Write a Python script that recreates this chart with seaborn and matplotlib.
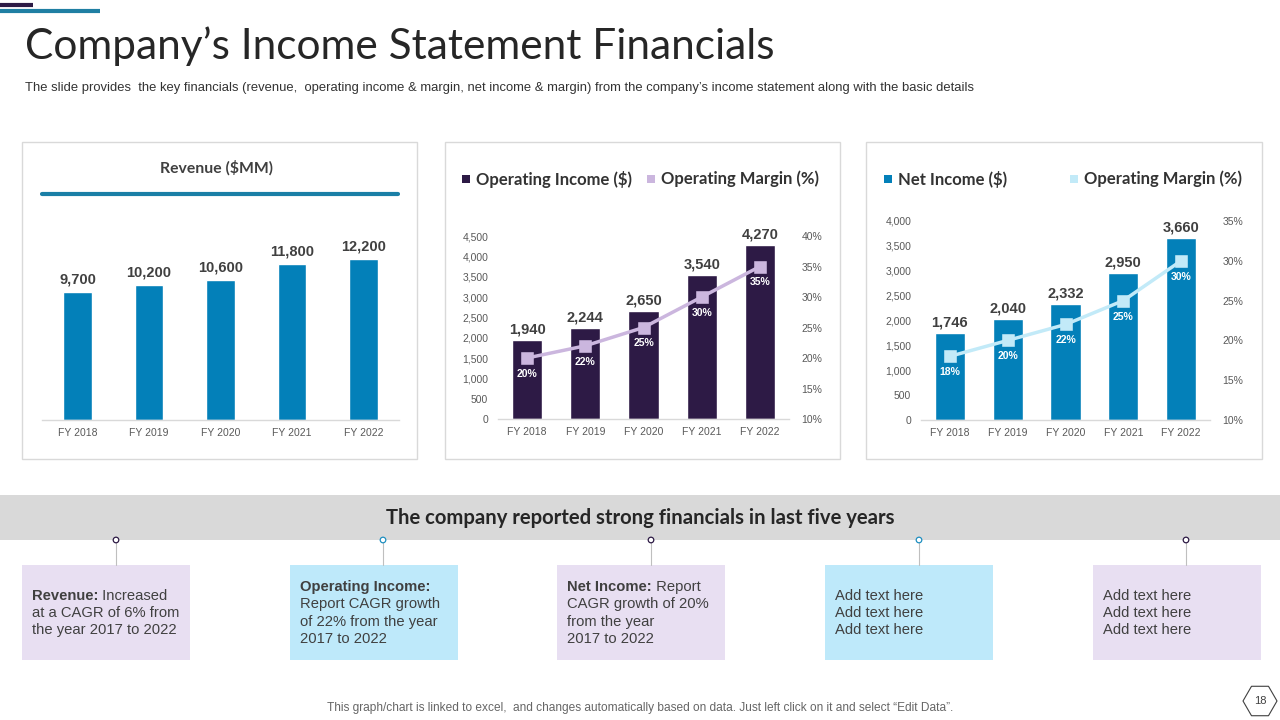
import numpy as np
import pandas as pd
import matplotlib
matplotlib.use("Agg")
import matplotlib.pyplot as plt
import seaborn as sns
from matplotlib.patches import Rectangle, RegularPolygon, Circle
from matplotlib.ticker import FuncFormatter, MultipleLocator

# ---------------- data ----------------
years = ["FY 2018", "FY 2019", "FY 2020", "FY 2021", "FY 2022"]
revenue = [9700, 10200, 10600, 11800, 12200]
op_income = [1940, 2244, 2650, 3540, 4270]
op_margin = [20, 22, 25, 30, 35]
net_income = [1746, 2040, 2332, 2950, 3660]
net_margin = [18, 20, 22, 25, 30]

title = "Company\u2019s Income Statement Financials"
subtitle = ("The slide provides  the key financials (revenue,  operating income & margin, net income & margin) "
            "from the company\u2019s income statement along with the basic details")
band_text = "The company reported strong financials in last five years"
footer = ("This graph/chart is linked to excel,  and changes automatically based on data. "
          "Just left click on it and select \u201cEdit Data\u201d.")

# ---------------- style ----------------
sns.set_theme(style="white")
plt.rcParams["font.family"] = ["Liberation Sans", "DejaVu Sans"]
HEAD = ["Lato", "DejaVu Sans"]

DARK = "#2d1a45"
BLUE = "#0380b9"
LPURP = "#cbb6de"
LCYAN = "#c2eaf8"
TXT = "#404040"
TICK = "#595959"

W, H = 1280, 720
fig = plt.figure(figsize=(12.8, 7.2), dpi=100)
fig.patch.set_facecolor("white")

bg = fig.add_axes([0, 0, 1, 1], zorder=0)
bg.set_xlim(0, W)
bg.set_ylim(H, 0)
bg.axis("off")


def pax(x0, y0, x1, y1, z=2):
    a = fig.add_axes([x0 / W, 1 - y1 / H, (x1 - x0) / W, (y1 - y0) / H], zorder=z)
    a.patch.set_alpha(0)
    return a


# ---------------- header ----------------
bg.plot([0, 33], [5, 5], color=DARK, lw=3, solid_capstyle="butt")
bg.plot([0, 100], [11, 11], color="#1f7fa3", lw=3, solid_capstyle="butt")
bg.text(25, 46, title, fontsize=30.5, family=HEAD, fontweight="normal", color="#262626",
        va="center", ha="left")
bg.text(25, 88, subtitle, fontsize=9.4, color="#333333", va="center", ha="left")

# ---------------- panel frames ----------------
for (x0, x1) in [(22, 417), (445, 840), (866, 1262)]:
    bg.add_patch(Rectangle((x0, 142), x1 - x0, 317, fill=False, ec="#d9d9d9", lw=1))


def style_axes(ax):
    for s in ["left", "right", "top"]:
        ax.spines[s].set_visible(False)
    ax.spines["bottom"].set_color("#d9d9d9")
    ax.spines["bottom"].set_linewidth(1)
    ax.set_xlabel("")
    ax.set_ylabel("")
    ax.tick_params(axis="x", length=0, labelsize=7.5, labelcolor=TICK, pad=6)
    ax.tick_params(axis="y", length=0, labelsize=7.5, labelcolor=TICK, pad=7)
    ax.grid(False)


# ---------------- panel 1: revenue ----------------
bg.text(217, 168, "Revenue ($MM)", fontsize=11.3, family=HEAD, fontweight="bold",
        color=TXT, ha="center", va="center")
bg.plot([42, 398], [194, 194], color="#1a7fa6", lw=3, solid_capstyle="round")

df1 = pd.DataFrame({"year": years, "value": revenue})
ax1 = pax(42, 235, 399, 420)
sns.barplot(data=df1, x="year", y="value", color=BLUE, saturation=1, width=0.4, ax=ax1)
ax1.set_xlim(-0.5, 4.5)
ax1.set_ylim(0, 14000)
style_axes(ax1)
ax1.set_yticks([])
for i, v in enumerate(revenue):
    ax1.annotate(f"{v:,}", (i, v), xytext=(0, 4), textcoords="offset points",
                 ha="center", va="bottom", fontsize=10.5, fontweight="bold", color=TXT)


# ---------------- combo panels ----------------
def combo(box, vals, margins, bar_c, line_c, ymax, ystep, rmin, rmax):
    x0, y0, x1, y1 = box
    df = pd.DataFrame({"year": years, "value": vals, "margin": margins})
    ax = pax(x0, y0, x1, y1, z=2)
    sns.barplot(data=df, x="year", y="value", color=bar_c, saturation=1, width=0.52, ax=ax)
    ax.set_xlim(-0.5, 4.5)
    ax.set_ylim(0, ymax)
    ax.yaxis.set_major_locator(MultipleLocator(ystep))
    ax.yaxis.set_major_formatter(FuncFormatter(lambda v, p: f"{v:,.0f}"))
    style_axes(ax)
    for i, v in enumerate(vals):
        ax.annotate(f"{v:,}", (i, v), xytext=(0, 2.5), textcoords="offset points",
                    ha="center", va="bottom", fontsize=10.5, fontweight="bold", color=TXT)
    ax2 = ax.twinx()
    ax2.set_zorder(3)
    ax2.patch.set_alpha(0)
    sns.pointplot(data=df, x="year", y="margin", color=line_c, markers="s",
                  errorbar=None, markersize=7, linewidth=2.5, ax=ax2)
    ax2.set_xlim(-0.5, 4.5)
    ax2.set_ylim(rmin, rmax)
    ax2.yaxis.set_major_locator(MultipleLocator(5))
    ax2.yaxis.set_major_formatter(FuncFormatter(lambda v, p: f"{v:.0f}%"))
    style_axes(ax2)
    ax2.spines["bottom"].set_visible(False)
    ax2.tick_params(axis="y", pad=9)
    for i, m in enumerate(margins):
        ax2.annotate(f"{m}%", (i, m), xytext=(0, -11.5), textcoords="offset points",
                     ha="center", va="center", fontsize=7.5, fontweight="bold", color="white")
    return ax, ax2


combo((498, 236, 789, 419), op_income, op_margin, DARK, LPURP, 4500, 500, 10, 40)
combo((921, 221, 1210, 420), net_income, net_margin, BLUE, LCYAN, 4000, 500, 10, 35)

# legends
def legend_item(x, y, c, label):
    bg.add_patch(Rectangle((x - 4, y - 4), 8, 8, color=c, lw=0))
    bg.text(x + 10, y, label, fontsize=12, family=HEAD, fontweight="bold",
            color="#333333", ha="left", va="center")

legend_item(466, 179, DARK, "Operating Income ($)")
legend_item(651, 179, LPURP, "Operating Margin (%)")
legend_item(888, 179, BLUE, "Net Income ($)")
legend_item(1074, 179, LCYAN, "Operating Margin (%)")

# ---------------- band ----------------
bg.add_patch(Rectangle((0, 495), W, 45, color="#d9d9d9", lw=0))
bg.text(640, 518, band_text, fontsize=14.6, family=HEAD, fontweight="bold",
        color="#262626", ha="center", va="center")

# ---------------- boxes ----------------
box_x = [22, 290, 557, 825, 1093]
box_fill = ["#e8dff2", "#bee9fa", "#e8dff2", "#bee9fa", "#e8dff2"]
dot_c = [DARK, "#1f8fc0", DARK, "#1f8fc0", DARK]
conn_x = [116, 383, 651, 919, 1186]
box_lines = [
    [("Revenue:", " Increased"), ("", "at a CAGR of 6% from"), ("", "the year 2017 to 2022")],
    [("Operating Income:", ""), ("", "Report CAGR growth"), ("", "of 22% from the year"), ("", "2017 to 2022")],
    [("Net Income:", " Report"), ("", "CAGR growth of 20%"), ("", "from the year"), ("", "2017 to 2022")],
    [("", "Add text here"), ("", "Add text here"), ("", "Add text here")],
    [("", "Add text here"), ("", "Add text here"), ("", "Add text here")],
]

for bx, fc, cx, dc in zip(box_x, box_fill, conn_x, dot_c):
    bg.add_patch(Rectangle((bx, 565), 168, 95, color=fc, lw=0))
    bg.plot([cx, cx], [543, 565], color="#bfbfbf", lw=0.8)
    bg.add_patch(Circle((cx, 540), 2.8, fc="white", ec=dc, lw=0.9, zorder=5))

renderer = fig.canvas.get_renderer()
inv = bg.transData.inverted()
for bx, lines in zip(box_x, box_lines):
    n = len(lines)
    y_start = 613 - (n - 1) * 17.3 / 2
    for k, (b, r) in enumerate(lines):
        y = y_start + k * 17.3
        x = bx + 10
        if b:
            t = bg.text(x, y, b, fontsize=10.6, fontweight="bold", color=TXT, ha="left", va="center")
            bb = t.get_window_extent(renderer)
            x = inv.transform((bb.x1, bb.y0))[0]
        if r:
            bg.text(x, y, r, fontsize=10.6, color=TXT, ha="left", va="center")

# ---------------- footer ----------------
bg.text(640, 708, footer, fontsize=8.6, color="#666666", ha="center", va="center")
bg.add_patch(RegularPolygon((1260, 701), 6, radius=17, orientation=np.pi / 6,
                            fill=False, ec="#404040", lw=0.8))
bg.text(1260, 701, "18", fontsize=8, color="#404040", ha="center", va="center")

fig.savefig("out.png", dpi=100, facecolor="white")
